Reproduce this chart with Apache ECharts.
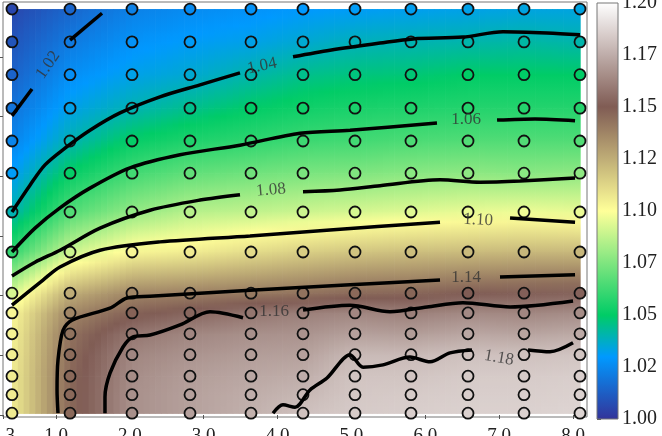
<!DOCTYPE html>
<html lang="en">
<head>
<meta charset="UTF-8">
<title>contour map</title>
<style>
  html, body { margin: 0; padding: 0; background: #fff; }
  #main { width: 662px; height: 436px; }
</style>
</head>
<body>
<div id="main"></div>
<script src="https://cdn.jsdelivr.net/npm/echarts@6/dist/echarts.min.js"></script>
<script>
// sample grid (columns along x, rows from top to bottom)
const xs = [0.404, 1.190, 2.029, 2.814, 3.640, 4.344, 5.048, 5.806, 6.578, 7.336, 8.094];
const ys = [6.80, 6.25, 5.70, 5.14, 4.59, 4.05, 3.40, 2.73, 2.04, 1.71, 1.36, 1.01, 0.65, 0.34, 0.03];

const z = [
  [1.006, 1.015, 1.023, 1.026, 1.028, 1.030, 1.031, 1.032, 1.033, 1.034, 1.034],
  [1.010, 1.021, 1.028, 1.031, 1.033, 1.036, 1.039, 1.040, 1.041, 1.042, 1.041],
  [1.014, 1.027, 1.033, 1.036, 1.041, 1.045, 1.047, 1.048, 1.050, 1.050, 1.050],
  [1.019, 1.033, 1.040, 1.045, 1.050, 1.053, 1.055, 1.056, 1.057, 1.057, 1.057],
  [1.024, 1.040, 1.051, 1.056, 1.059, 1.062, 1.063, 1.065, 1.066, 1.066, 1.066],
  [1.031, 1.051, 1.063, 1.069, 1.072, 1.074, 1.075, 1.077, 1.078, 1.077, 1.078],
  [1.040, 1.066, 1.079, 1.086, 1.088, 1.090, 1.092, 1.094, 1.096, 1.097, 1.096],
  [1.060, 1.090, 1.103, 1.106, 1.111, 1.115, 1.118, 1.120, 1.121, 1.122, 1.122],
  [1.092, 1.125, 1.137, 1.139, 1.141, 1.143, 1.146, 1.147, 1.150, 1.151, 1.152],
  [1.102, 1.137, 1.148, 1.153, 1.158, 1.161, 1.163, 1.161, 1.164, 1.163, 1.165],
  [1.104, 1.143, 1.158, 1.163, 1.166, 1.167, 1.171, 1.170, 1.173, 1.172, 1.174],
  [1.105, 1.145, 1.163, 1.167, 1.170, 1.171, 1.179, 1.179, 1.181, 1.181, 1.182],
  [1.106, 1.146, 1.165, 1.170, 1.173, 1.175, 1.182, 1.182, 1.184, 1.184, 1.185],
  [1.106, 1.146, 1.166, 1.171, 1.175, 1.178, 1.183, 1.184, 1.185, 1.185, 1.186],
  [1.106, 1.146, 1.166, 1.171, 1.176, 1.181, 1.184, 1.185, 1.186, 1.186, 1.187]
];

// contour lines, split where the inline labels sit
const c102a = [[0.404, 5.01], [0.675, 5.46]];
const c102b = [[1.190, 6.28], [1.623, 6.73]];
const c104a = [[0.404, 3.40], [0.648, 3.85], [0.851, 4.19], [1.122, 4.47], [1.460, 4.77], [1.867, 5.06], [2.408, 5.33], [2.950, 5.53], [3.491, 5.73]];
const c104b = [[4.209, 6.00], [4.710, 6.11], [5.387, 6.23], [5.834, 6.30], [6.510, 6.33], [7.052, 6.42], [7.648, 6.40], [8.094, 6.37]];
const c106a = [[0.404, 2.73], [0.716, 3.13], [1.054, 3.47], [1.460, 3.80], [2.002, 4.14], [2.679, 4.36], [3.491, 4.52], [4.304, 4.72], [4.981, 4.77], [6.158, 4.89]];
const c106b = [[6.971, 4.94], [7.485, 4.96], [8.027, 4.93]];
const c108a = [[0.404, 2.33], [0.716, 2.56], [1.054, 2.76], [1.596, 3.13], [2.273, 3.43], [2.950, 3.60], [3.491, 3.69]];
const c108b = [[4.344, 3.74], [4.845, 3.77], [5.387, 3.84], [6.199, 3.94], [6.741, 3.90], [7.282, 3.92], [8.027, 3.97]];
const c110a = [[0.404, 1.84], [0.824, 2.26], [1.054, 2.48], [1.596, 2.76], [2.408, 2.90], [3.627, 3.00], [4.710, 3.10], [6.199, 3.23]];
const c110b = [[7.147, 3.30], [8.027, 3.23]];
const c114a = [[1.027, 0.03], [1.014, 0.42], [1.027, 0.92], [1.095, 1.42], [1.217, 1.59], [1.731, 1.79], [1.961, 1.96], [2.273, 1.99], [3.627, 2.09], [4.981, 2.18], [6.199, 2.26]];
const c114b = [[7.011, 2.31], [8.027, 2.35]];
const c116a = [[1.663, 0.03], [1.663, 0.30], [1.731, 0.70], [1.907, 1.14], [2.043, 1.31], [2.273, 1.34], [2.679, 1.51], [3.085, 1.73], [3.532, 1.63]];
const c116b = [[4.344, 1.76], [4.981, 1.84], [5.522, 1.73], [6.023, 1.81], [6.510, 1.88], [7.147, 1.81], [8.000, 1.91]];
const c118a = [[3.938, 0.03], [4.073, 0.17], [4.236, 0.13], [4.439, 0.42], [4.669, 0.62], [4.981, 1.01], [5.157, 0.80], [5.427, 0.84], [5.793, 0.97], [6.064, 0.89], [6.334, 1.04], [6.632, 1.09]];
const c118b = [[7.390, 1.09], [7.688, 1.06], [8.000, 1.21]];

// inline contour labels
const clabText = ['1.02', '1.04', '1.06', '1.08', '1.10', '1.14', '1.16', '1.18'];
const clabX = [0.892, 3.789, 6.551, 3.911, 6.714, 6.551, 3.952, 6.998];
const clabY = [5.863, 5.846, 4.941, 3.769, 3.266, 2.295, 1.725, 0.955];
const clabRot = [55, 12, 0, 5, -3, 0, 0, -10];

// axis ticks
const xTicks = [0.2824, 1, 2, 3, 4, 5, 6, 7, 8];
const yTicks = [0, 1, 2, 3, 4, 5, 6];
const cbTicks = [1.0, 1.025, 1.05, 1.075, 1.1, 1.125, 1.15, 1.175, 1.2];
const cbLabels = ['1.00', '1.02', '1.05', '1.07', '1.10', '1.12', '1.15', '1.17', '1.20'];

const VMIN = 1.0, VMAX = 1.2;
const FONT = 'Liberation Serif';

// matplotlib "terrain"
const terrain = [
  [0.00, [0.2, 0.2, 0.6]],
  [0.15, [0.0, 0.6, 1.0]],
  [0.25, [0.0, 0.8, 0.4]],
  [0.50, [1.0, 1.0, 0.6]],
  [0.75, [0.5, 0.36, 0.33]],
  [1.00, [1.0, 1.0, 1.0]]
];
function cmap(v) {
  let t = (v - VMIN) / (VMAX - VMIN);
  t = Math.max(0, Math.min(1, t));
  for (let k = 1; k < terrain.length; k++) {
    if (t <= terrain[k][0]) {
      const a = terrain[k - 1], b = terrain[k];
      const f = (t - a[0]) / (b[0] - a[0]);
      const c = a[1].map((u, n) => Math.round(255 * (u + (b[1][n] - u) * f)));
      return 'rgb(' + c.join(',') + ')';
    }
  }
  return 'rgb(255,255,255)';
}

// cells between neighbouring samples, shaded like gouraud
const cells = [];
for (let j = 0; j < ys.length - 1; j++) {
  for (let i = 0; i < xs.length - 1; i++) cells.push([i, j]);
}
function renderCell(params, api) {
  const i = api.value(0), j = api.value(1);
  const a = api.coord([xs[i], ys[j]]);
  const b = api.coord([xs[i + 1], ys[j + 1]]);
  const n = 10, w = (b[0] - a[0]) / n;
  const kids = [];
  for (let k = 0; k < n; k++) {
    const t = (k + 0.5) / n;
    const top = z[j][i] + (z[j][i + 1] - z[j][i]) * t;
    const bot = z[j + 1][i] + (z[j + 1][i + 1] - z[j + 1][i]) * t;
    const stops = [0, 0.25, 0.5, 0.75, 1].map(s => ({ offset: s, color: cmap(top + (bot - top) * s) }));
    kids.push({
      type: 'rect',
      shape: { x: a[0] + k * w, y: a[1], width: w + 0.7, height: b[1] - a[1] + 0.7 },
      style: { fill: new echarts.graphic.LinearGradient(0, 0, 0, 1, stops) }
    });
  }
  return { type: 'group', children: kids };
}

// colour bar drawn as one gradient rect
function renderBar(params, api) {
  const a = api.coord([0, VMAX]);
  const b = api.coord([1, VMIN]);
  const stops = [];
  for (let k = 0; k <= 40; k++) stops.push({ offset: k / 40, color: cmap(VMAX - (VMAX - VMIN) * k / 40) });
  return {
    type: 'rect',
    shape: { x: a[0], y: a[1], width: b[0] - a[0], height: b[1] - a[1] },
    style: { fill: new echarts.graphic.LinearGradient(0, 0, 0, 1, stops), stroke: '#777', lineWidth: 1 }
  };
}

const points = [];
ys.forEach((y, j) => xs.forEach((x, i) => points.push([x, y, z[j][i]])));

const contours = [c102a, c102b, c104a, c104b, c106a, c106b, c108a, c108b, c110a, c110b, c114a, c114b, c116a, c116b, c118a, c118b];

const labelData = clabText.map((t, k) => ({
  name: t,
  value: [clabX[k], clabY[k]],
  label: { rotate: clabRot[k] }
}));

const myChart = echarts.init(document.getElementById('main'));
const option = {
  animation: false,
  grid: [
    { left: 3, right: 75, top: 2, bottom: 19, show: true, borderColor: '#777', borderWidth: 1, outerBoundsMode: 'none' },
    { left: 597, width: 21, top: 3, bottom: 17, outerBoundsMode: 'none' }
  ],
  xAxis: [
    {
      gridIndex: 0, type: 'value', min: 0.2824, max: 8.189,
      axisLine: { show: false }, splitLine: { show: false },
      axisTick: { show: true, customValues: xTicks, length: 4, lineStyle: { color: '#555' } },
      axisLabel: {
        customValues: xTicks, formatter: v => v.toFixed(1),
        fontFamily: FONT, fontSize: 19, color: '#222', margin: 10
      }
    },
    { gridIndex: 1, type: 'value', min: 0, max: 1, show: false }
  ],
  yAxis: [
    {
      gridIndex: 0, type: 'value', min: -0.0335, max: 6.918,
      axisLine: { show: false }, splitLine: { show: false },
      axisTick: { show: true, customValues: yTicks, length: 4, lineStyle: { color: '#555' } },
      axisLabel: { show: false }
    },
    {
      gridIndex: 1, type: 'value', min: VMIN, max: VMAX, position: 'right',
      axisLine: { show: false }, splitLine: { show: false },
      axisTick: { show: true, customValues: cbTicks, length: 4, lineStyle: { color: '#555' } },
      axisLabel: {
        customValues: cbTicks,
        formatter: v => cbLabels[Math.round((v - VMIN) / 0.025)],
        fontFamily: FONT, fontSize: 20, color: '#222', margin: 4
      }
    }
  ],
  series: [
    {
      type: 'custom', xAxisIndex: 0, yAxisIndex: 0, renderItem: renderCell,
      data: cells, silent: true, z: 1
    },
    {
      type: 'scatter', xAxisIndex: 0, yAxisIndex: 0, data: points,
      symbolSize: 11, silent: true, z: 3,
      itemStyle: { color: p => cmap(p.value[2]), borderColor: '#111', borderWidth: 1.8, opacity: 1 }
    },
    ...contours.map(pts => ({
      type: 'line', xAxisIndex: 0, yAxisIndex: 0, data: pts,
      smooth: 0.3, symbol: 'none', silent: true, z: 4,
      lineStyle: { color: '#000', width: 3.5 }
    })),
    {
      type: 'scatter', xAxisIndex: 0, yAxisIndex: 0, data: labelData,
      symbolSize: 1, itemStyle: { color: 'rgba(0,0,0,0)' }, silent: true, z: 5,
      label: {
        show: true, position: 'inside', formatter: p => p.name,
        fontFamily: FONT, fontSize: 17, color: '#333'
      }
    },
    {
      type: 'custom', xAxisIndex: 1, yAxisIndex: 1, renderItem: renderBar,
      data: [[0, VMIN]], silent: true
    }
  ]
};
myChart.setOption(option);
</script>
</body>
</html>
